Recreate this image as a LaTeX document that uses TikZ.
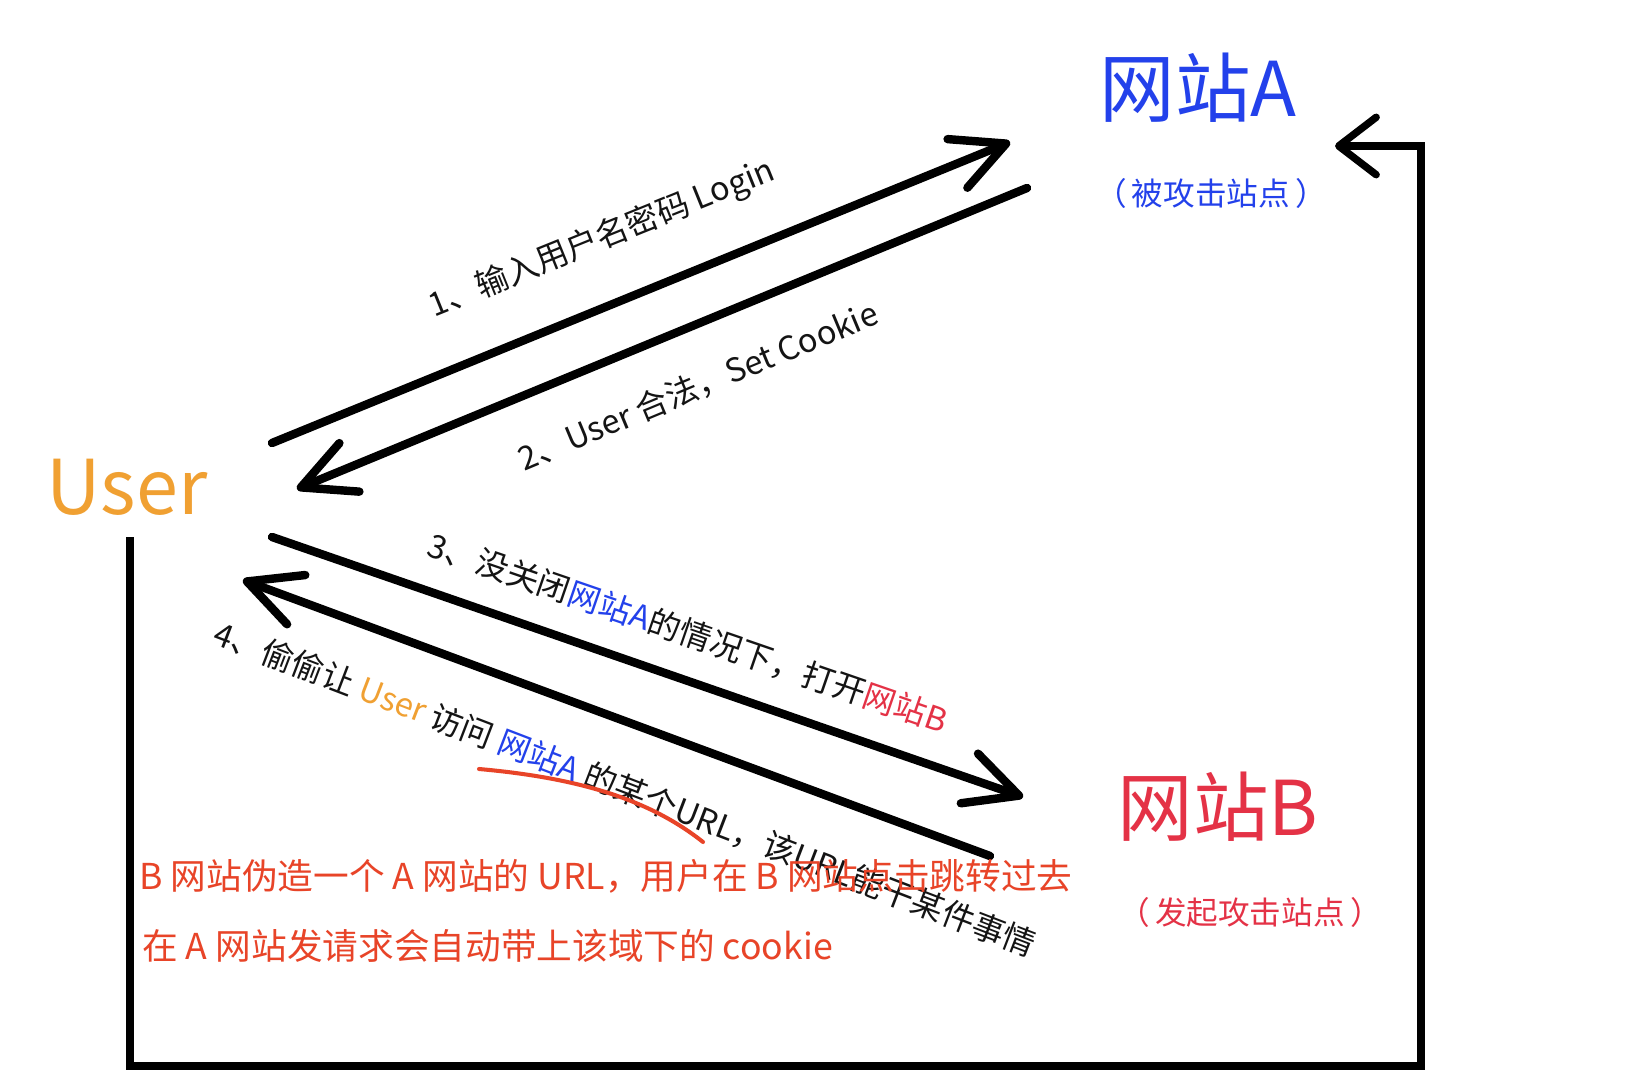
\documentclass[tikz,border=0pt]{standalone}
\usepackage{fontspec}
\setmainfont{Noto Sans CJK SC}
\usetikzlibrary{arrows.meta, positioning, calc}

\definecolor{siteblue}{RGB}{35,65,235}
\definecolor{sitered}{RGB}{228,50,70}
\definecolor{userorange}{RGB}{240,160,50}
\definecolor{notered}{RGB}{232,68,40}

\begin{document}
\begin{tikzpicture}[
        x=0.02cm, y=-0.02cm,
        title/.style={inner sep=0pt, font=\fontsize{43pt}{50pt}\selectfont},
        subtitle/.style={inner sep=0pt, font=\fontsize{18pt}{21pt}\selectfont},
        steplabel/.style={inner sep=0pt, text=black!92, font=\fontsize{18.5pt}{22pt}\selectfont},
        note/.style={inner sep=0pt, anchor=west, text=notered, font=\fontsize{20.3pt}{24pt}\selectfont},
        arrow/.style={line width=4.8pt, line cap=round, -{Straight Barb[length=1.05cm, width=1.05cm, round]}},
        backline/.style={line width=4.2pt, -{Straight Barb[length=0.75cm, width=1.15cm, round]}},
        underline/.style={draw=notered, line width=2.3pt, line cap=round}
    ]
    \fill[white] (0,0) rectangle (1626,1084);

    % Nodes
    \node (user) [title, text=userorange] at (127,487) {User};
    \node (siteA) [title, text=siteblue] at (1198,88) {网站A};
    \node (siteAsub) [subtitle, text=siteblue, below=1.1cm of siteA, xshift=0.26cm] {（\,被攻击站点\,）};
    \node (siteB) [title, text=sitered] at (1218,807) {网站B};
    \node (siteBsub) [subtitle, text=sitered, below=1.1cm of siteB, xshift=0.64cm] {（\,发起攻击站点\,）};

    \coordinate (loopstart) at ($(user)+(3,50)$);
    \coordinate (corner) at (1421,1066);
    \coordinate (looptip) at ($(siteA)+(137,58)$);

    % Arrows
    \draw [arrow] ($(user)+(145,-44)$) -- ($(siteA)+(-188,54)$);
    \draw [arrow] ($(siteA)+(-171,100)$) -- ($(user)+(170,2)$);
    \draw [arrow] ($(user)+(145,50)$) -- ($(siteB)+(-195,-10)$);
    \draw [arrow] ($(siteB)+(-228,49)$) -- ($(user)+(116,93)$);
    \draw [backline] (loopstart) |- (corner) |- (looptip);

    % Labels
    \node (step1) [steplabel, rotate=22] at (602,239) {1、输入用户名密码 Login};
    \node (step2) [steplabel, rotate=22.6] at (698,386) {2、User 合法，Set Cookie};
    \node (step3) [steplabel, rotate=-19] at (688,633) {3、没关闭\textcolor{siteblue}{网站A}的情况下，打开\textcolor{sitered}{网站B}};
    \node (step4) [steplabel, rotate=-21] at (625,789) {4、偷偷让 \textcolor{userorange}{User} 访问 \textcolor{siteblue}{网站A} 的某个URL，该URL能干某件事情};

    \draw [underline] (479,769) .. controls (580,778) and (650,800) .. (703,842);

    \node (note1) [note] at (139,876) {B 网站伪造一个 A 网站的 URL，用户在 B 网站点击跳转过去};
    \node (note2) [note] at (142,946) {在 A 网站发请求会自动带上该域下的 cookie};

\end{tikzpicture}
\end{document}
